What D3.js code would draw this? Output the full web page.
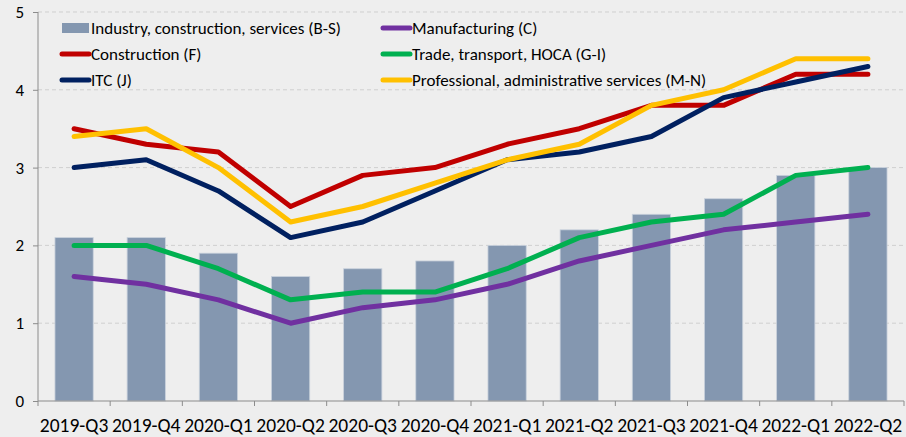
<!DOCTYPE html>
<html>
<head>
<meta charset="utf-8">
<script src="https://cdn.jsdelivr.net/npm/d3@7"></script>
<style>
  body { margin: 0; background: #eeeeee; }
  svg { display: block; font-family: Carlito, Calibri, Lato, sans-serif; }
</style>
</head>
<body>
<div class="chart"></div>
<script>
// data
var quarters = ["2019-Q3", "2019-Q4", "2020-Q1", "2020-Q2", "2020-Q3", "2020-Q4",
  "2021-Q1", "2021-Q2", "2021-Q3", "2021-Q4", "2022-Q1", "2022-Q2"];
var totalBS = [2.1, 2.1, 1.9, 1.6, 1.7, 1.8, 2.0, 2.2, 2.4, 2.6, 2.9, 3.0];
var manufacturing = [1.6, 1.5, 1.3, 1.0, 1.2, 1.3, 1.5, 1.8, 2.0, 2.2, 2.3, 2.4];
var construction = [3.5, 3.3, 3.2, 2.5, 2.9, 3.0, 3.3, 3.5, 3.8, 3.8, 4.2, 4.2];
var trade = [2.0, 2.0, 1.7, 1.3, 1.4, 1.4, 1.7, 2.1, 2.3, 2.4, 2.9, 3.0];
var itc = [3.0, 3.1, 2.7, 2.1, 2.3, 2.7, 3.1, 3.2, 3.4, 3.9, 4.1, 4.3];
var professional = [3.4, 3.5, 3.0, 2.3, 2.5, 2.8, 3.1, 3.3, 3.8, 4.0, 4.4, 4.4];
var yTicks = [0, 1, 2, 3, 4, 5];

var lineSeries = [
  { name: "Manufacturing (C)", values: manufacturing, color: "#7030a0" },
  { name: "Construction (F)", values: construction, color: "#c00000" },
  { name: "Trade, transport, HOCA (G-I)", values: trade, color: "#00b050" },
  { name: "ITC (J)", values: itc, color: "#002060" },
  { name: "Professional, administrative services (M-N)", values: professional, color: "#ffc000" }
];

var svgWidth = 906;
var svgHeight = 437;
var margin = { top: 12, right: 2, bottom: 36, left: 38 };
var width = svgWidth - margin.left - margin.right;
var height = svgHeight - margin.top - margin.bottom;

var svg = d3.select(".chart").append("svg")
  .attr("width", svgWidth)
  .attr("height", svgHeight);

svg.append("rect").attr("width", svgWidth).attr("height", svgHeight).attr("fill", "#eeeeee");

var chart = svg.append("g")
  .attr("transform", "translate(" + margin.left + "," + margin.top + ")");

var x = d3.scaleBand().domain(quarters).range([0, width]).paddingInner(0.47).paddingOuter(0.235);
var xPoint = d3.scalePoint().domain(quarters).range([0, width]).padding(0.5);
var y = d3.scaleLinear().domain([0, 5]).range([height, 0]);

// gridlines
chart.append("g").selectAll("line")
  .data(yTicks.filter(function(d) { return d > 0; }))
  .enter().append("line")
  .attr("x1", 0).attr("x2", width)
  .attr("y1", function(d) { return y(d); })
  .attr("y2", function(d) { return y(d); })
  .attr("stroke", "#cfcfcf")
  .attr("stroke-dasharray", "4,3");

// bars
chart.append("g").selectAll("rect")
  .data(totalBS)
  .enter().append("rect")
  .attr("x", function(d, i) { return x(quarters[i]); })
  .attr("y", function(d) { return y(d); })
  .attr("width", x.bandwidth())
  .attr("height", function(d) { return height - y(d); })
  .attr("fill", "#8497b0")
  .attr("stroke", "#c9d1dc")
  .attr("stroke-width", 0.8);

// lines
var line = d3.line()
  .x(function(d, i) { return xPoint(quarters[i]); })
  .y(function(d) { return y(d); });

chart.append("g").selectAll("path")
  .data(lineSeries)
  .enter().append("path")
  .attr("d", function(s) { return line(s.values); })
  .attr("fill", "none")
  .attr("stroke", function(s) { return s.color; })
  .attr("stroke-width", 5)
  .attr("stroke-linecap", "round")
  .attr("stroke-linejoin", "round");

// y axis
var leftAxis = d3.axisLeft(y).tickValues(yTicks).tickSize(5).tickPadding(9).tickFormat(d3.format("d"));
var gy = chart.append("g").call(leftAxis);
gy.select(".domain").attr("stroke", "#8c8c8c").attr("d", "M0," + height + "V0");
gy.selectAll(".tick line").attr("stroke", "#8c8c8c");
gy.selectAll("text").attr("font-size", 17).attr("fill", "#000").attr("font-family", "Carlito, Calibri, Lato, sans-serif");

// x axis
var gx = chart.append("g").attr("transform", "translate(0," + height + ")");
gx.append("line").attr("x1", 0).attr("x2", width).attr("stroke", "#8c8c8c");
gx.selectAll(".xt")
  .data(d3.range(quarters.length + 1))
  .enter().append("line")
  .attr("class", "xt")
  .attr("x1", function(i) { return i * x.step(); })
  .attr("x2", function(i) { return i * x.step(); })
  .attr("y1", 0).attr("y2", 5)
  .attr("stroke", "#8c8c8c");
gx.selectAll("text")
  .data(quarters)
  .enter().append("text")
  .attr("x", function(d) { return xPoint(d); })
  .attr("y", 31)
  .attr("text-anchor", "middle")
  .attr("font-size", 19.5)
  .attr("fill", "#000")
  .text(function(d) { return d; });

// legend
var legendItems = [
  { name: "Industry, construction, services (B-S)", color: "#8497b0", bar: true, col: 0, row: 0 },
  { name: lineSeries[0].name, color: lineSeries[0].color, col: 1, row: 0 },
  { name: lineSeries[1].name, color: lineSeries[1].color, col: 0, row: 1 },
  { name: lineSeries[2].name, color: lineSeries[2].color, col: 1, row: 1 },
  { name: lineSeries[3].name, color: lineSeries[3].color, col: 0, row: 2 },
  { name: lineSeries[4].name, color: lineSeries[4].color, col: 1, row: 2 }
];
var legendX = [62, 383];
var legendY = [28, 54, 80];

var legend = svg.append("g").selectAll("g")
  .data(legendItems)
  .enter().append("g")
  .attr("transform", function(d) { return "translate(" + legendX[d.col] + "," + legendY[d.row] + ")"; });

legend.filter(function(d) { return d.bar; }).append("rect")
  .attr("x", 0).attr("y", -5).attr("width", 27).attr("height", 10)
  .attr("fill", function(d) { return d.color; });
legend.filter(function(d) { return !d.bar; }).append("line")
  .attr("x1", 0).attr("x2", 27).attr("y1", 0).attr("y2", 0)
  .attr("stroke", function(d) { return d.color; })
  .attr("stroke-width", 5)
  .attr("stroke-linecap", "round");
legend.append("text")
  .attr("x", 29).attr("y", 6)
  .attr("font-size", 17)
  .attr("fill", "#000")
  .text(function(d) { return d.name; });
</script>
</body>
</html>
